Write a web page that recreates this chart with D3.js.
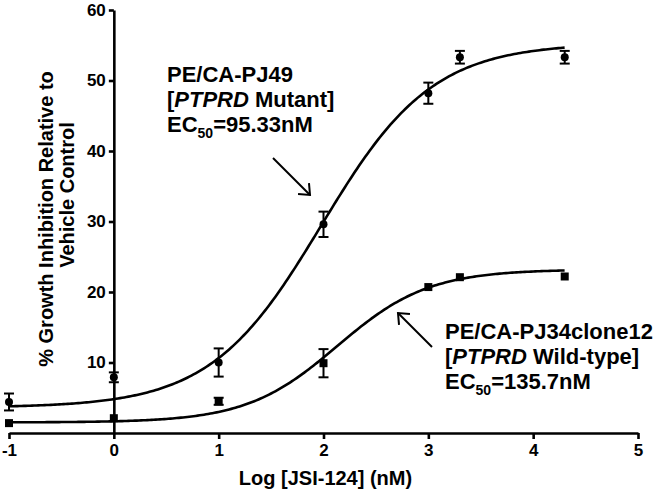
<!DOCTYPE html>
<html>
<head>
<meta charset="utf-8">
<script src="https://cdn.jsdelivr.net/npm/d3@7"></script>
<style>
  html, body { margin: 0; padding: 0; background: #fff; }
  svg { display: block; }
  text { font-family: "Liberation Sans", Arial, sans-serif; fill: #000; }
</style>
</head>
<body>
<svg id="chart" width="662" height="489"></svg>
<script>
// ---- data ----
const xTicks = [-1, 0, 1, 2, 3, 4, 5];
const yTicks = [10, 20, 30, 40, 50, 60];
const logConc = [-1, 0, 1, 2, 3, 3.301, 4.301];
const mutantMean = [4.4, 7.9, 10.0, 29.6, 48.2, 53.3, 53.3];
const mutantSEM  = [1.2, 0.7, 2.0, 1.8, 1.5, 0.9, 0.9];
const wildMean   = [1.4, 2.1, 4.5, 9.9, 20.7, 22.1, 22.2];
const wildSEM    = [0, 0, 0.5, 2.0, 0, 0, 0];
// 4-parameter logistic fits: [bottom, top, logEC50, hill]
const mutantFit = [3.6, 55.3, Math.log10(95.33), 0.82];
const wildFit   = [1.5, 23.2, Math.log10(135.7), 1.0];
const fitRange  = [-1, 4.301];

const svg = d3.select("#chart");
const x = d3.scaleLinear().domain([-1, 5]).range([9, 638]);
const y = d3.scaleLinear().domain([0, 60]).range([433, 10]);

// fitted curves
function logistic(p, v) { return p[0] + (p[1] - p[0]) / (1 + Math.pow(10, (p[2] - v) * p[3])); }
const xs = d3.range(fitRange[0], fitRange[1] + 1e-9, 0.02);
const line = d3.line().x(d => x(d[0])).y(d => y(d[1]));
[mutantFit, wildFit].forEach(p => {
  svg.append("path")
    .attr("d", line(xs.map(v => [v, logistic(p, v)])))
    .attr("fill", "none").attr("stroke", "#000").attr("stroke-width", 2.6);
});

// error bars
function errorBars(means, sems) {
  const g = svg.append("g").attr("stroke", "#000").attr("stroke-width", 2);
  logConc.forEach((c, i) => {
    if (!sems[i]) return;
    const cx = x(c), y1 = y(means[i] + sems[i]), y2 = y(means[i] - sems[i]);
    g.append("line").attr("x1", cx).attr("x2", cx).attr("y1", y1).attr("y2", y2);
    g.append("line").attr("x1", cx - 5).attr("x2", cx + 5).attr("y1", y1).attr("y2", y1);
    g.append("line").attr("x1", cx - 5).attr("x2", cx + 5).attr("y1", y2).attr("y2", y2);
  });
}
errorBars(mutantMean, mutantSEM);
errorBars(wildMean, wildSEM);

// markers
svg.append("g").selectAll("circle").data(logConc).join("circle")
  .attr("cx", d => x(d)).attr("cy", (d, i) => y(mutantMean[i])).attr("r", 4).attr("fill", "#000");
svg.append("g").selectAll("rect").data(logConc).join("rect")
  .attr("x", d => x(d) - 4).attr("y", (d, i) => y(wildMean[i]) - 4)
  .attr("width", 8).attr("height", 8).attr("fill", "#000");

// axes
const yAxis = svg.append("g").attr("transform", `translate(${x(0)},0)`)
  .call(d3.axisLeft(y).tickValues(yTicks).tickSize(5).tickSizeOuter(0).tickPadding(3));
const xAxis = svg.append("g").attr("transform", `translate(0,${y(0)})`)
  .call(d3.axisBottom(x).tickValues(xTicks).tickSize(6).tickSizeOuter(0).tickPadding(5)
        .tickFormat(d3.format("d")));
[yAxis, xAxis].forEach(a => {
  a.selectAll("path, line").attr("stroke", "#000").attr("stroke-width", 2.6);
  a.selectAll("text").attr("font-size", 17).attr("font-weight", "bold")
    .attr("font-family", "'Liberation Sans', Arial, sans-serif").attr("fill", "#000");
});
xAxis.selectAll("text").text(d => d < 0 ? "-" + Math.abs(d) : d);

// axis titles
svg.append("text").attr("x", (x(-1) + x(5)) / 2 + 2).attr("y", 485)
  .attr("text-anchor", "middle").attr("font-size", 20).attr("font-weight", "bold")
  .text("Log [JSI-124] (nM)");
svg.append("text").attr("transform", "translate(53,219) rotate(-90)")
  .attr("text-anchor", "middle").attr("font-size", 20).attr("font-weight", "bold")
  .text("% Growth Inhibition Relative to");
svg.append("text").attr("transform", "translate(74,195) rotate(-90)")
  .attr("text-anchor", "middle").attr("font-size", 20).attr("font-weight", "bold")
  .text("Vehicle Control");

// annotations
function annotation(x0, y0, name, gene, type, ec) {
  const g = svg.append("g").attr("font-size", 22).attr("font-weight", "bold");
  g.append("text").attr("x", x0).attr("y", y0).text(name);
  const t2 = g.append("text").attr("x", x0).attr("y", y0 + 25);
  t2.append("tspan").text("[");
  t2.append("tspan").attr("font-style", "italic").text(gene);
  t2.append("tspan").text(" " + type + "]");
  const t3 = g.append("text").attr("x", x0).attr("y", y0 + 50);
  t3.append("tspan").text("EC");
  t3.append("tspan").attr("font-size", 14).attr("dy", 6).text("50");
  t3.append("tspan").attr("dy", -6).text("=" + ec);
}
annotation(167, 82, "PE/CA-PJ49", "PTPRD", "Mutant", "95.33nM");
annotation(445, 339, "PE/CA-PJ34clone12", "PTPRD", "Wild-type", "135.7nM");

// arrows
function arrow(x1, y1, x2, y2) {
  const g = svg.append("g").attr("stroke", "#000").attr("stroke-width", 2).attr("fill", "none");
  g.append("line").attr("x1", x1).attr("y1", y1).attr("x2", x2).attr("y2", y2);
  const a = Math.atan2(y1 - y2, x1 - x2), L = 12, s = 0.7;
  g.append("path").attr("d",
    `M${x2 + L * Math.cos(a + s)},${y2 + L * Math.sin(a + s)}L${x2},${y2}L${x2 + L * Math.cos(a - s)},${y2 + L * Math.sin(a - s)}`);
}
arrow(273, 158, 310, 195);
arrow(432, 347, 398, 313);
</script>
</body>
</html>
